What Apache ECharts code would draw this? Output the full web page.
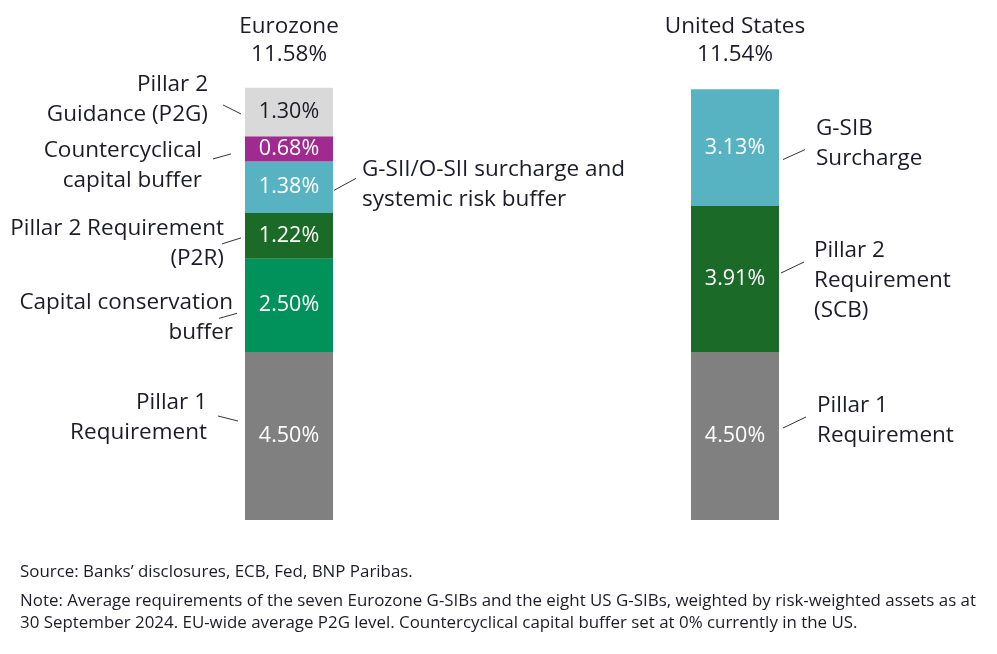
<!DOCTYPE html>
<html>
<head>
<meta charset="utf-8">
<script src="https://cdn.jsdelivr.net/npm/echarts@6/dist/echarts.min.js"></script>
<style>
html,body{margin:0;padding:0;background:#fff;}
#chart{width:997px;height:654px;}
</style>
</head>
<body>
<div id="chart"></div>
<script>
// ---- data ----
const categories = ['Eurozone', 'United States'];
const totals = ['11.58%', '11.54%'];
const pillar1 = [4.50, 4.50];
const capitalConservation = [2.50, null];
const pillar2Req = [1.22, 3.91];
const systemicSurcharge = [1.38, 3.13];
const countercyclical = [0.68, null];
const pillar2Guidance = [1.30, null];
const euroNotes = ['Pillar 1\nRequirement', 'Capital conservation\nbuffer', 'Pillar 2 Requirement\n(P2R)', 'G-SII/O-SII surcharge and\nsystemic risk buffer', 'Countercyclical\ncapital buffer', 'Pillar 2\nGuidance (P2G)'];
const usNotes = ['Pillar 1\nRequirement', 'Pillar 2\nRequirement\n(SCB)', 'G-SIB\nSurcharge'];
const sourceText = 'Source: Banks\u2019 disclosures, ECB, Fed, BNP Paribas.';
const noteText = 'Note: Average requirements of the seven Eurozone G-SIBs and the eight US G-SIBs, weighted by risk-weighted assets as at\n30 September 2024. EU-wide average P2G level. Countercyclical capital buffer set at 0% currently in the US.';

// ---- styling ----
const FONT = '"Open Sans", Roboto, sans-serif';
const TXT = '#1c1c28';
const BARW = 88;
const stackSeries = [
  {name: 'Pillar 1', data: pillar1, color: '#808080', lc: '#ffffff'},
  {name: 'Capital conservation buffer', data: capitalConservation, color: '#00925a', lc: '#ffffff'},
  {name: 'Pillar 2 Requirement', data: pillar2Req, color: '#1b6a27', lc: '#ffffff'},
  {name: 'Systemic surcharge', data: systemicSurcharge, color: '#57b3c1', lc: '#ffffff'},
  {name: 'Countercyclical capital buffer', data: countercyclical, color: '#a02a8f', lc: '#ffffff'},
  {name: 'Pillar 2 Guidance', data: pillar2Guidance, color: '#d9d9d9', lc: '#1c1c28'}
];

// note layout offsets relative to bar edge & segment midpoint
const euroLayout = {
  0: {side: 'left', tdx: -38, tdy: -18, l: [-27, -20, -7, -15]},
  1: {side: 'left', tdx: -12, tdy: 12, l: [-26, 13, -8, 8]},
  2: {side: 'left', tdx: -21, tdy: 8, l: [-23, 8, -4, 2]},
  3: {side: 'right', tdx: 29, tdy: -3, l: [1, 3, 23, -9]},
  4: {side: 'left', tdx: -43, tdy: 17, l: [-32, 10, -14, 5]},
  5: {side: 'left', tdx: -37, tdy: -12, l: [-22, -7, -4, 2]}
};
const usLayout = {
  0: {side: 'right', tdx: 38, tdy: -15, l: [4, -8, 27, -19]},
  1: {side: 'right', tdx: 35, tdy: 2, l: [2, -6, 25, -17]},
  2: {side: 'right', tdx: 37, tdy: -4, l: [4, 12, 26, 2]}
};

// build annotation items: [catIdx, segment midpoint, order, noteText]
const noteItems = [];
[0, 1].forEach(function (ci) {
  let base = 0;
  let k = 0;
  const notes = ci === 0 ? euroNotes : usNotes;
  stackSeries.forEach(function (s) {
    const v = s.data[ci];
    if (v == null) return;
    noteItems.push([ci, base + v / 2, k, notes[k]]);
    base += v;
    k++;
  });
});

const series = stackSeries.map(function (s) {
  return {
    name: s.name,
    type: 'bar',
    stack: 'total',
    barWidth: BARW,
    data: s.data,
    itemStyle: {color: s.color},
    label: {
      show: true,
      position: 'inside',
      color: s.lc,
      fontFamily: FONT,
      fontSize: 21.5,
      formatter: function (p) { return p.value == null ? '' : p.value.toFixed(2) + '%'; }
    },
    emphasis: {disabled: true},
    animation: false
  };
});

series.push({
  type: 'custom',
  data: noteItems,
  silent: true,
  animation: false,
  z: 10,
  renderItem: function (params, api) {
    const ci = api.value(0);
    const mid = api.value(1);
    const k = api.value(2);
    const text = noteItems[params.dataIndex][3];
    const lay = (ci === 0 ? euroLayout : usLayout)[k];
    const p = api.coord([ci, mid]);
    const edge = lay.side === 'left' ? p[0] - BARW / 2 : p[0] + BARW / 2;
    return {
      type: 'group',
      children: [
        {
          type: 'line',
          shape: {x1: edge + lay.l[0], y1: p[1] + lay.l[1], x2: edge + lay.l[2], y2: p[1] + lay.l[3]},
          style: {stroke: '#333', lineWidth: 1}
        },
        {
          type: 'text',
          style: {
            text: text,
            x: edge + lay.tdx,
            y: p[1] + lay.tdy,
            align: lay.side === 'left' ? 'right' : 'left',
            verticalAlign: 'middle',
            fontFamily: FONT,
            fontSize: 22.5,
            lineHeight: 30,
            fill: TXT
          }
        }
      ]
    };
  }
});

const chart = echarts.init(document.getElementById('chart'), null, {renderer: 'canvas'});
chart.setOption({
  backgroundColor: '#fff',
  animation: false,
  grid: {left: 66, right: 39, top: 72, bottom: 134},
  xAxis: {
    type: 'category',
    position: 'top',
    data: categories,
    axisLine: {show: false},
    axisTick: {show: false},
    axisLabel: {
      margin: 3,
      fontFamily: FONT,
      fontSize: 22.5,
      lineHeight: 28,
      color: TXT,
      formatter: function (v, i) { return v + '\n' + totals[i]; }
    }
  },
  yAxis: {
    type: 'value',
    min: 0,
    max: 12,
    show: false
  },
  series: series,
  graphic: [
    {type: 'text', left: 20, top: 564, style: {text: sourceText, fontFamily: FONT, fontSize: 16.9, fill: TXT}},
    {type: 'text', left: 20, top: 590, style: {text: noteText, fontFamily: FONT, fontSize: 16.9, lineHeight: 22, fill: TXT}}
  ]
});
</script>
</body>
</html>
